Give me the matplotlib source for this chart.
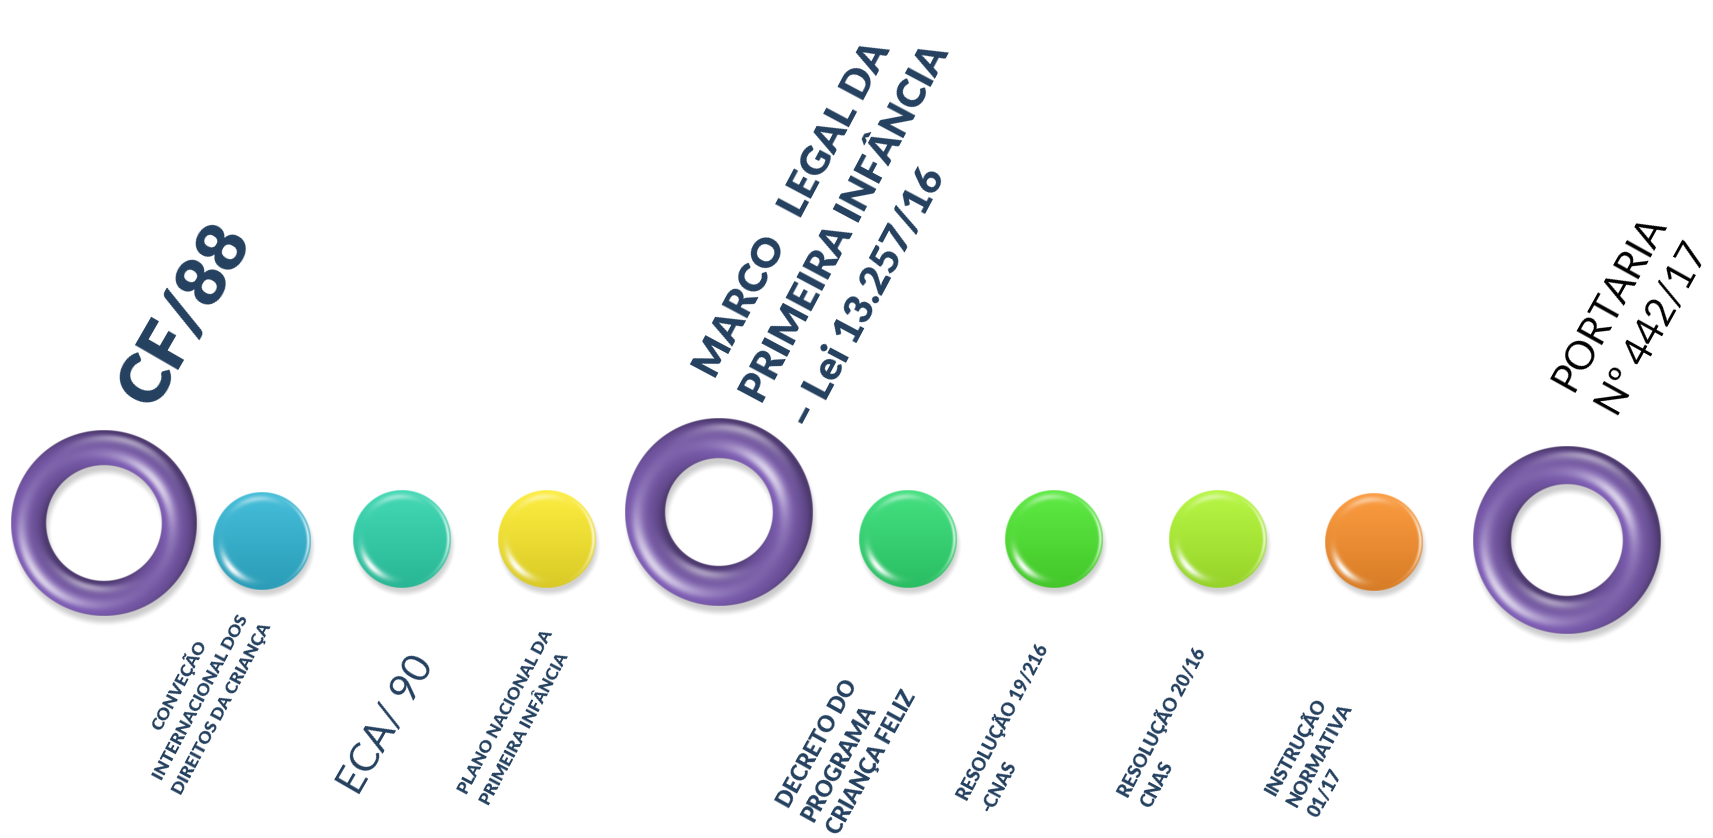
import numpy as np
import matplotlib
matplotlib.use("Agg")
import matplotlib.pyplot as plt
from matplotlib.colors import to_rgb
from matplotlib.textpath import TextPath
from matplotlib.font_manager import FontProperties

# ---------------- data ----------------
# Major milestones (rings)
ring_labels = ["CF/88", "MARCO LEGAL DA PRIMEIRA INFÂNCIA", "PORTARIA Nº 442/17"]
ring_x = [104, 719, 1567]
ring_y = [523, 512, 540]
ring_outer = [93, 94, 94]
ring_inner = [58, 54, 56]
ring_color = "#7658A8"

# Minor milestones (balls)
ball_labels = ["CONVEÇÃO", "ECA/90", "PLANO NACIONAL", "DECRETO", "RES 19", "RES 20", "INSTRUÇÃO"]
ball_x = [262, 402, 547, 908, 1054, 1218, 1374]
ball_y = [541, 539, 539, 539, 539, 539, 542]
ball_r = [49, 49, 49, 49, 49, 49, 49]
ball_colors = ["#2FAFCD", "#2DCCA6", "#F3E22A", "#2ED46E", "#4ADF2E", "#A8EC2E", "#F18B2A"]

# Text labels
NAVY = "#24405F"
text_lines = [
    ["CF/88"],
    ["CONVEÇÃO", "INTERNACIONAL DOS", "DIREITOS DA CRIANÇA"],
    ["ECA/ 90"],
    ["PLANO NACIONAL DA", "PRIMEIRA INFÂNCIA"],
    ["MARCO   LEGAL DA", "PRIMEIRA INFÂNCIA", "– Lei 13.257/16"],
    ["DECRETO DO", "PROGRAMA", "CRIANÇA FELIZ"],
    ["RESOLUÇÃO 19/216", "-CNAS"],
    ["RESOLUÇÃO 20/16", "CNAS"],
    ["INSTRUÇÃO", "NORMATIVA", "01/17"],
    ["PORTARIA", "Nº 442/17"],
]
text_start = [(154, 408), (184, 688), (360, 794), (468, 794), (716, 377),
              (790, 808), (968, 800), (1129, 797), (1276, 795), (1574, 390)]
text_angle = [60, 62, 60, 62, 62, 61, 62, 62, 61, 61]
text_len = [194, 190, 148, 182, 396, 160, 172, 165, 115, 190]
text_fit = [0, 2, 0, 0, 1, 2, 0, 0, 1, 0]
text_space = [0, 24, 0, 24, 54, 28, 27, 25, 24, 52]
text_align = ["left", "center", "left", "left", "left", "left", "left", "left", "left", "left"]
text_weight = [800, 800, "normal", 800, 800, 800, 800, 800, 800, "normal"]
text_color = [NAVY] * 9 + ["black"]

# ---------------- figure ----------------
W, H, DPI = 1713, 838, 100
fig = plt.figure(figsize=(W / DPI, H / DPI), dpi=DPI)
ax = fig.add_axes([0, 0, 1, 1])
ax.set_xlim(0, W)
ax.set_ylim(H, 0)
ax.axis("off")


def angw(ang, a0, spread):
    da = np.angle(np.exp(1j * (ang - np.deg2rad(a0))))
    return np.exp(-(da / np.deg2rad(spread)) ** 2)


def smooth(t):
    t = np.clip(t, 0, 1)
    return t * t * (3 - 2 * t)


def shadow(cx, cy, R, r_in=0.0, dx=2, dy=7, soft=9, strength=0.28):
    pad = soft + 4
    n = int(2 * (R + pad))
    g = np.linspace(-(R + pad), R + pad, n)
    X, Y = np.meshgrid(g, g)
    rho = np.hypot(X, Y)
    a = smooth((R + soft / 2 - rho) / soft)
    if r_in > 0:
        a = a * smooth((rho - (r_in - soft / 2)) / soft)
    a = strength * a
    img = np.dstack([np.full_like(a, 0.3)] * 3 + [a])
    cx, cy = cx + dx, cy + dy
    ax.imshow(img, extent=(cx - R - pad, cx + R + pad, cy + R + pad, cy - R - pad),
              interpolation="bilinear", zorder=1)


def draw_ball(cx, cy, r, color, px=3):
    shadow(cx, cy, r, dy=6, soft=8, strength=0.25)
    n = int(2 * r * px)
    X, Y = np.meshgrid(np.linspace(-1, 1, n), np.linspace(-1, 1, n))
    D = np.hypot(X, Y)
    alpha = np.clip((1 - D) * r + 0.5, 0, 1)
    c = np.array(to_rgb(color))
    t = (Y + 1) / 2
    rgb = c[None, None, :] * (1.04 - 0.15 * t)[..., None]
    rgb = rgb + (1 - rgb) * (0.10 * (1 - t))[..., None]
    ang = np.arctan2(Y, X)
    cres = np.exp(-((D - 0.84) / 0.07) ** 2) * angw(ang, 138, 26)
    rim = np.exp(-((D - 0.95) / 0.03) ** 2) * angw(ang, -5, 40)
    top = np.exp(-((D - 0.87) / 0.06) ** 2) * angw(ang, -100, 28)
    hl = np.clip(0.95 * cres + 0.75 * rim + 0.45 * top, 0, 1)
    rgb = np.clip(rgb + (1 - rgb) * hl[..., None], 0, 1)
    img = np.dstack([rgb, alpha])
    ax.imshow(img, extent=(cx - r, cx + r, cy + r, cy - r), interpolation="bilinear", zorder=2)


def draw_ring(cx, cy, R, r, color, px=3):
    shadow(cx, cy, R, r_in=r, dy=7, soft=9, strength=0.28)
    n = int(2 * R * px)
    X, Y = np.meshgrid(np.linspace(-R, R, n), np.linspace(-R, R, n))
    rho = np.hypot(X, Y) + 1e-9
    alpha = np.clip(np.minimum(R - rho, rho - r) + 0.5, 0, 1)
    rm, hw = (R + r) / 2, (R - r) / 2
    s = np.clip((rho - rm) / hw, -1, 1)
    k = 0.75
    nx, ny, nz = k * s * X / rho, k * s * Y / rho, np.sqrt(1 - s ** 2) + 0.05
    nn = np.sqrt(nx ** 2 + ny ** 2 + nz ** 2)
    nx, ny, nz = nx / nn, ny / nn, nz / nn
    L = np.array([-0.55, 0.45, 0.70]); L /= np.linalg.norm(L)
    Hh = L + np.array([0, 0, 1.0]); Hh /= np.linalg.norm(Hh)
    diff = np.clip(nx * L[0] + ny * L[1] + nz * L[2], 0, 1)
    spec = np.clip(nx * Hh[0] + ny * Hh[1] + nz * Hh[2], 0, 1) ** 28
    L2 = np.array([0.2, -0.7, 0.6]); L2 /= np.linalg.norm(L2)
    H2 = L2 + np.array([0, 0, 1.0]); H2 /= np.linalg.norm(H2)
    spec2 = np.clip(nx * H2[0] + ny * H2[1] + nz * H2[2], 0, 1) ** 40
    base = np.array(to_rgb(color))
    rgb = base[None, None, :] * (0.66 + 0.44 * diff)[..., None]
    hl = np.clip(0.7 * spec + 0.45 * spec2, 0, 1)
    rgb = np.clip(rgb + (1 - rgb) * hl[..., None], 0, 1)
    img = np.dstack([rgb, alpha])
    ax.imshow(img, extent=(cx - R, cx + R, cy + R, cy - R), interpolation="bilinear", zorder=2)


for i in range(len(ring_labels)):
    draw_ring(ring_x[i], ring_y[i], ring_outer[i], ring_inner[i], ring_color)
for i in range(len(ball_labels)):
    draw_ball(ball_x[i], ball_y[i], ball_r[i], ball_colors[i])


def place_label(lines, start, theta, target_len, fit_idx, spacing, align, weight, color):
    fp1 = FontProperties(family="Lato", weight=weight)
    exts = [TextPath((0, 0), s, size=1, prop=fp1).get_extents() for s in lines]
    fs = target_len * 72 / DPI / exts[fit_idx].width
    th = np.deg2rad(theta)
    u = np.array([np.cos(th), -np.sin(th)])
    nperp = np.array([np.sin(th), np.cos(th)])
    for i, (s, e) in enumerate(zip(lines, exts)):
        p = np.array(start, float) + i * spacing * nperp
        x0 = e.x0 * fs * DPI / 72
        wpx = e.width * fs * DPI / 72
        if align == "left":
            a = p - x0 * u
        else:
            a = p - (x0 + wpx / 2) * u
        ax.text(a[0], a[1], s, fontproperties=FontProperties(family="Lato", weight=weight, size=fs),
                rotation=theta, rotation_mode="anchor", ha="left", va="baseline", color=color, zorder=5)


for i in range(len(text_lines)):
    place_label(text_lines[i], text_start[i], text_angle[i], text_len[i], text_fit[i],
                text_space[i], text_align[i], text_weight[i], text_color[i])

fig.savefig("out.png", dpi=DPI, facecolor="white")
